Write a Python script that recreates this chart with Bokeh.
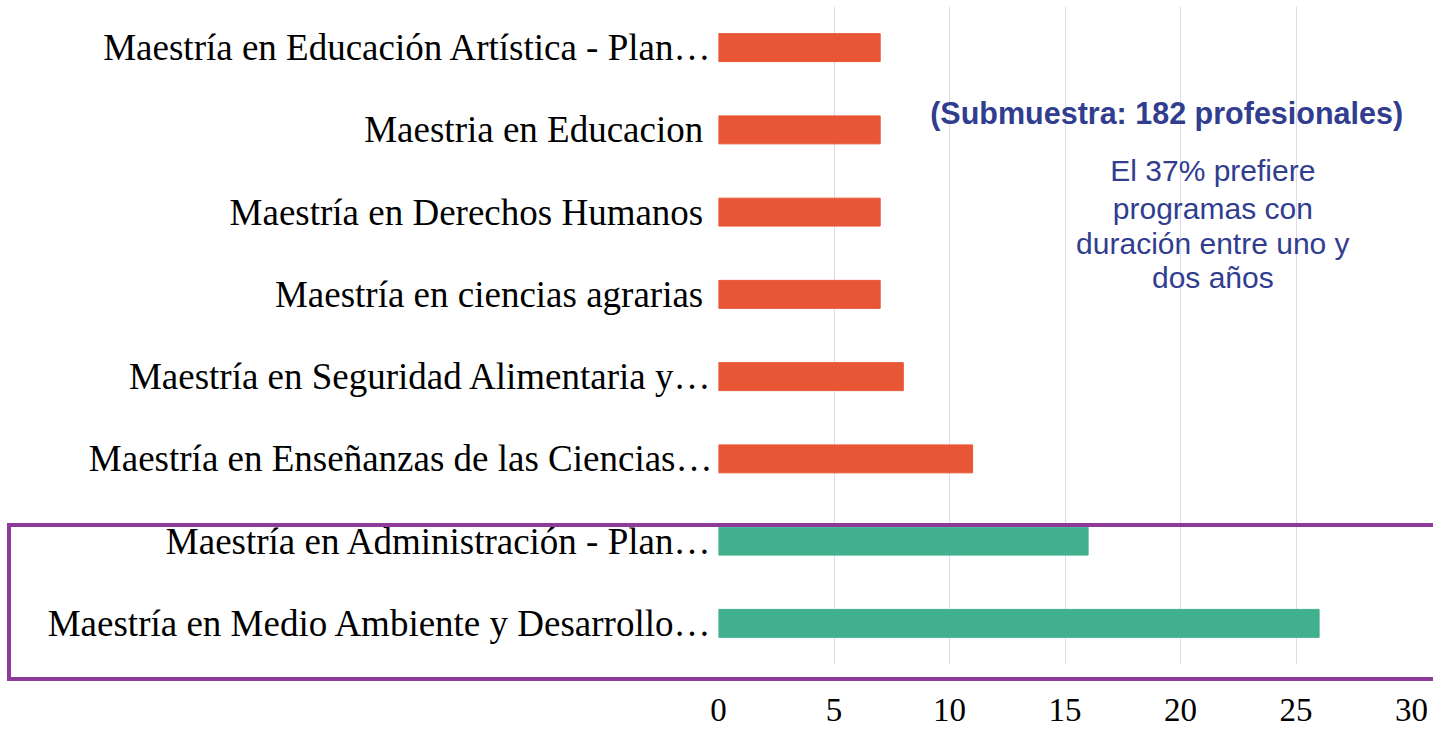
from bokeh.plotting import figure
from bokeh.models import ColumnDataSource, FactorRange, Label, FixedTicker, Div
from bokeh.layouts import column
from bokeh.embed import file_html
from bokeh.resources import INLINE

# categories listed bottom to top
categories = [
    "Maestría en Medio Ambiente y Desarrollo…",
    "Maestría en Administración - Plan…",
    "Maestría en Enseñanzas de las Ciencias…",
    "Maestría en Seguridad Alimentaria y…",
    "Maestría en ciencias agrarias ",
    "Maestría en Derechos Humanos ",
    "Maestria en Educacion ",
    "Maestría en Educación Artística - Plan…",
]
values = [26, 16, 11, 8, 7, 7, 7, 7]
highlight = [True, True, False, False, False, False, False, False]
x_ticks = [0, 5, 10, 15, 20, 25, 30]

ORANGE = "#E85636"
GREEN = "#41B08E"
PURPLE = "#8E3A9A"
BLUE = "#313D8E"

colors = [GREEN if h else ORANGE for h in highlight]
source = ColumnDataSource(dict(cat=categories, val=values, color=colors))

p = figure(
    width=1433, height=730,
    y_range=FactorRange(*categories, range_padding=0),
    x_range=(0, 30),
    output_backend="svg", toolbar_location=None,
    min_border_left=718, min_border_right=22, min_border_top=6, min_border_bottom=66,
)
p.hbar(y="cat", right="val", left=0, height=0.34, color="color", source=source)

p.outline_line_color = None
p.background_fill_color = "white"
p.border_fill_color = "white"

p.xaxis.ticker = FixedTicker(ticks=x_ticks)
p.xaxis.axis_line_color = None
p.xaxis.major_tick_line_color = None
p.xaxis.major_tick_out = 0
p.xaxis.minor_tick_line_color = None
p.xaxis.minor_tick_out = 0
p.xaxis.major_label_text_font = "Liberation Serif"
p.xaxis.major_label_text_font_size = "33px"
p.xaxis.major_label_text_line_height = 0.9
p.xaxis.major_label_text_color = "black"
p.xaxis.major_label_standoff = 34

p.yaxis.axis_line_color = None
p.yaxis.major_tick_line_color = None
p.yaxis.major_tick_out = 0
p.yaxis.minor_tick_line_color = None
p.yaxis.minor_tick_out = 0
p.yaxis.major_label_text_font = "Liberation Serif"
p.yaxis.major_label_text_font_size = "37px"
p.yaxis.major_label_text_color = "black"
p.yaxis.major_label_standoff = 6

p.ygrid.grid_line_color = None
p.xgrid.grid_line_color = "#DCDAF0"
p.xgrid.grid_line_width = 1

p.add_layout(Label(x=19.4, y=6.70, text="(Submuestra: 182 profesionales)",
                   text_align="center", text_baseline="middle",
                   text_font="Liberation Sans", text_font_style="bold",
                   text_font_size="30.5px", text_color=BLUE))
lines = ["El 37% prefiere", "programas con", "duración entre uno y", "dos años"]
ys = [6.01, 5.54, 5.12, 4.70]
for t, yy in zip(lines, ys):
    p.add_layout(Label(x=21.4, y=yy, text=t, text_align="center", text_baseline="middle",
                       text_font="Liberation Sans", text_font_size="30px", text_color=BLUE))

# highlight frame around the two leading programs (spans beyond the plot frame)
box = Div(text="", width=1440, height=158, margin=0,
          styles={"position": "absolute", "left": "7px", "top": "523px",
                  "border": f"4px solid {PURPLE}", "box-sizing": "border-box",
                  "pointer-events": "none", "z-index": "10"})

layout = column(p, box)
open("out.html", "w").write(file_html(layout, INLINE))
